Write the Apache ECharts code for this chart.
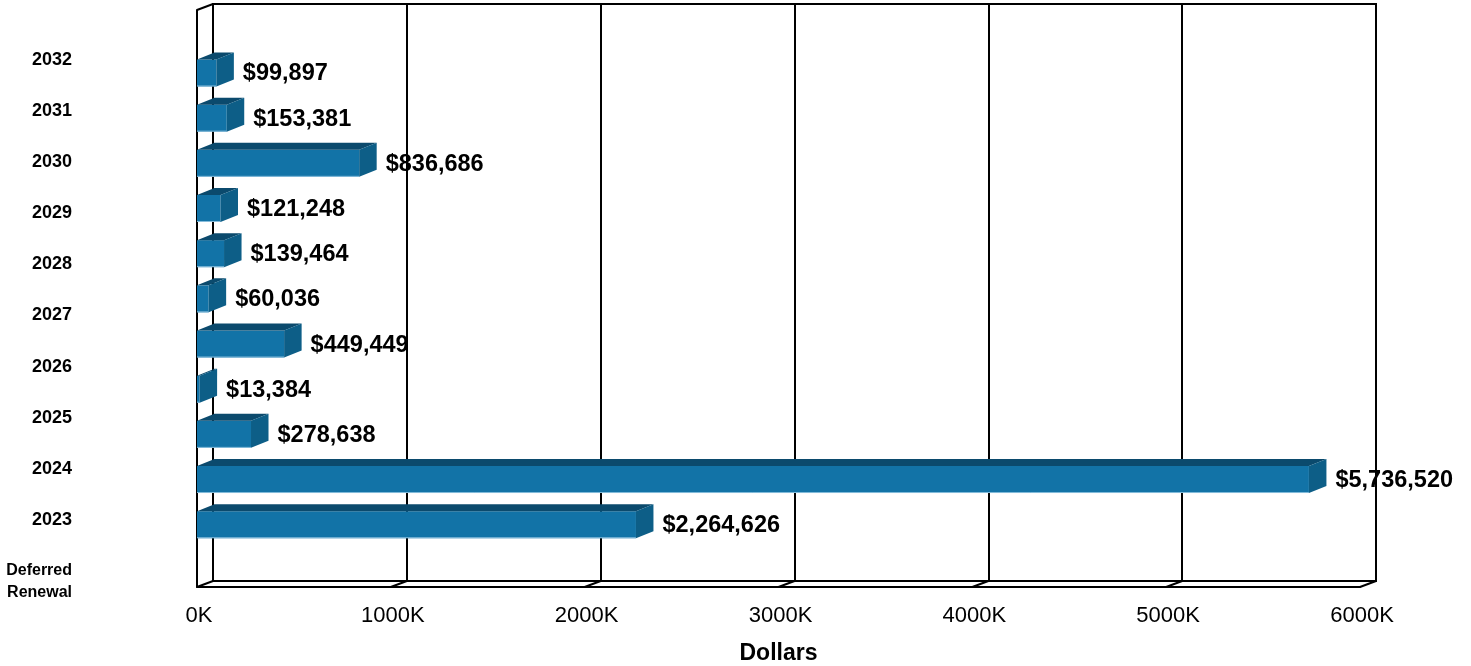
<!DOCTYPE html>
<html><head><meta charset="utf-8">
<script src="https://cdn.jsdelivr.net/npm/echarts@6/dist/echarts.min.js"></script>
<style>html,body{margin:0;padding:0;background:#fff}#c{width:1471px;height:666px}</style>
</head><body><div id="c"></div>
<script>
const categories = ['Deferred Renewal','2023','2024','2025','2026','2027','2028','2029','2030','2031','2032'];
const values = [2264626, 5736520, 278638, 13384, 449449, 60036, 139464, 121248, 836686, 153381, 99897];
const xTicks = [0, 1000000, 2000000, 3000000, 4000000, 5000000, 6000000];
const xMax = 6000000, xInterval = 1000000;

const FONT = "'Liberation Sans', Arial, Helvetica, sans-serif";
const DX = 17.5, DY = 7, BAR_H = 27;
const FRAME_DX = 16, FRAME_DY = 6;
const FRONT = '#1273A7', TOP = '#0B4A6D', SIDE = '#0D5E87';

function fmt(v){ return '$' + v.toLocaleString('en-US'); }

const chart = echarts.init(document.getElementById('c'), null, {renderer:'canvas'});

const frameData = xTicks.map(v => [v, 0]).concat([[0, 1]]);
const barData = values.map((v, i) => [v, i]);

const option = {
  animation: false,
  backgroundColor: '#fff',
  grid: [
    {left: 213, top: 4, width: 1163, height: 577, show: true, borderColor: '#000', borderWidth: 2, backgroundColor: 'transparent', outerBoundsMode: 'none', containLabel: false},
    {left: 197, top: 10, width: 1163, height: 577, outerBoundsMode: 'none', containLabel: false},
    {left: 197, top: 50.4, width: 1163, height: 496.9, outerBoundsMode: 'none', containLabel: false},
    {left: 80, top: 34.45, width: 10, height: 562.1, outerBoundsMode: 'none', containLabel: false}
  ],
  xAxis: [
    {gridIndex: 0, type: 'value', min: 0, max: xMax, interval: xInterval,
     axisLine: {show: false}, axisTick: {show: false}, axisLabel: {show: false},
     splitLine: {show: true, lineStyle: {color: '#000', width: 2}}},
    {gridIndex: 1, type: 'value', min: 0, max: xMax, interval: xInterval,
     axisLine: {show: true, lineStyle: {color: '#000', width: 2}},
     axisTick: {show: false}, splitLine: {show: false},
     axisLabel: {show: true, color: '#000', fontSize: 22, fontFamily: FONT, margin: 18,
                 padding: [0, 0, 0, 4],
                 formatter: v => (v / 1000) + 'K'},
     name: 'Dollars', nameLocation: 'middle', nameGap: 55,
     nameTextStyle: {color: '#000', fontSize: 23, fontWeight: 'bold', fontFamily: FONT}},
    {gridIndex: 2, type: 'value', min: 0, max: xMax, show: false},
    {gridIndex: 3, type: 'value', show: false}
  ],
  yAxis: [
    {gridIndex: 0, type: 'value', show: false},
    {gridIndex: 1, type: 'value', min: 0, max: 1,
     axisLine: {show: true, lineStyle: {color: '#000', width: 2}},
     axisTick: {show: false}, axisLabel: {show: false}, splitLine: {show: false}},
    {gridIndex: 2, type: 'category', data: categories, show: false},
    {gridIndex: 3, type: 'category',
     data: categories.map(c => c === 'Deferred Renewal' ? {value: c, textStyle: {fontSize: 16, lineHeight: 22}} : c),
     axisLine: {show: false}, axisTick: {show: false}, splitLine: {show: false},
     axisLabel: {show: true, color: '#000', fontSize: 18, fontWeight: 'bold', fontFamily: FONT, margin: 8,
                 formatter: v => v === 'Deferred Renewal' ? '\nDeferred\nRenewal' : v}}
  ],
  series: [
    {
      type: 'custom', xAxisIndex: 1, yAxisIndex: 1, data: frameData, silent: true, z: 3,
      renderItem: function (params, api) {
        const p = api.coord([api.value(0), api.value(1)]);
        return {type: 'line', shape: {x1: p[0], y1: p[1], x2: p[0] + FRAME_DX, y2: p[1] - FRAME_DY},
                style: {stroke: '#000', lineWidth: 2}};
      }
    },
    {
      type: 'custom', xAxisIndex: 2, yAxisIndex: 2, data: barData, silent: true, z: 5,
      encode: {x: 0, y: 1},
      renderItem: function (params, api) {
        const v = api.value(0), i = api.value(1);
        const p0 = api.coord([0, i]), p1 = api.coord([v, i]);
        const cy = p0[1], top = cy - BAR_H / 2, bot = cy + BAR_H / 2;
        const x0 = p0[0], x1 = p1[0];
        return {type: 'group', children: [
          {type: 'rect', shape: {x: x0, y: top, width: Math.max(x1 - x0, 0), height: BAR_H}, style: {fill: FRONT}},
          {type: 'line', shape: {x1: x0, y1: bot - 0.5, x2: x1, y2: bot - 0.5}, style: {stroke: '#86BCDB', lineWidth: 1}},
          {type: 'polygon', shape: {points: [[x0, top], [x1, top], [x1 + DX, top - DY], [x0 + DX, top - DY]]}, style: {fill: TOP}},
          {type: 'polygon', shape: {points: [[x1, top], [x1 + DX, top - DY], [x1 + DX, bot - DY], [x1, bot]]}, style: {fill: SIDE}},
          {type: 'text', style: {text: fmt(v), x: x1 + DX + 9, y: cy + 1, fill: '#000',
                                 fontSize: 23.5, fontWeight: 'bold', fontFamily: FONT,
                                 align: 'left', verticalAlign: 'middle'}}
        ]};
      }
    }
  ]
};
chart.setOption(option);
</script>
</body></html>
